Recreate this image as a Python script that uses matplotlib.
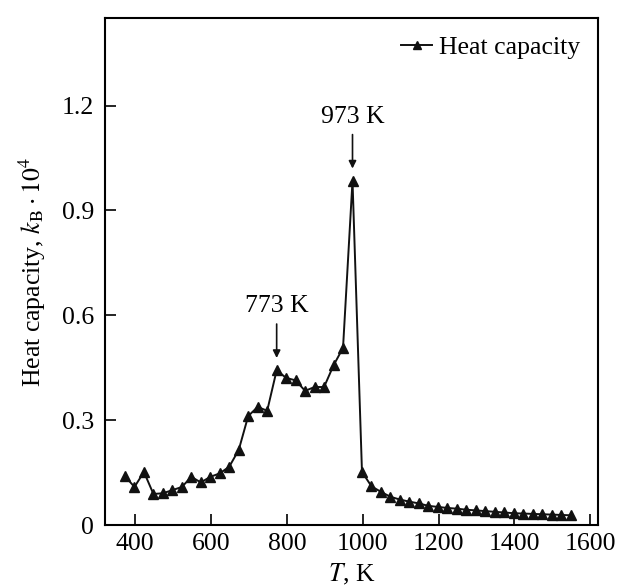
import matplotlib
matplotlib.use("Agg")
import matplotlib.pyplot as plt

plt.rcParams['font.family'] = ['Liberation Serif', 'DejaVu Serif']
plt.rcParams['mathtext.fontset'] = 'stix'

# temperature points, K
T = [373, 398, 423, 448, 473, 498, 523, 548, 573, 598, 623, 648, 673, 698,
     723, 748, 773, 798, 823, 848, 873, 898, 923, 948, 973, 998, 1023, 1048,
     1073, 1098, 1123, 1148, 1173, 1198, 1223, 1248, 1273, 1298, 1323, 1348,
     1373, 1398, 1423, 1448, 1473, 1498, 1523, 1548]
# heat capacity, kB * 10^4
C = [0.140, 0.109, 0.152, 0.089, 0.091, 0.100, 0.109, 0.138, 0.122, 0.138,
     0.148, 0.167, 0.215, 0.312, 0.338, 0.327, 0.443, 0.421, 0.414, 0.384,
     0.395, 0.395, 0.457, 0.507, 0.985, 0.152, 0.111, 0.095, 0.081, 0.073,
     0.067, 0.062, 0.055, 0.052, 0.049, 0.047, 0.044, 0.042, 0.040, 0.038,
     0.036, 0.034, 0.033, 0.032, 0.031, 0.030, 0.029, 0.028]

peaks = [773, 973]
xticks = [400, 600, 800, 1000, 1200, 1400, 1600]
yticks = [0, 0.3, 0.6, 0.9, 1.2]
yticklabels = ['0', '0.3', '0.6', '0.9', '1.2']

FS = 18.5

fig = plt.figure(figsize=(6.28, 5.88), dpi=100, facecolor='white')
ax = fig.add_axes([0.167, 0.107, 0.785, 0.862])

ax.plot(T, C, '-^', color='#111111', linewidth=1.4, markersize=7,
        label='Heat capacity')

# arrows pointing at the peaks
for p in peaks:
    v = C[T.index(p)]
    ax.annotate(f'{p} K', xy=(p, v + 0.035), xytext=(p, v + 0.152),
                ha='center', va='bottom', fontsize=FS,
                arrowprops=dict(arrowstyle='-|>', color='#111111', lw=1.2,
                                mutation_scale=11, shrinkA=3, shrinkB=0))

ax.set_xlim(320, 1620)
ax.set_ylim(0, 1.45)
ax.set_xticks(xticks)
ax.set_yticks(yticks)
ax.set_yticklabels(yticklabels)
ax.tick_params(direction='in', length=8, width=1.2, labelsize=FS,
               top=False, right=False, pad=6)
ax.tick_params(axis='y', pad=8)
for s in ax.spines.values():
    s.set_linewidth(1.5)

ax.set_xlabel('$T$, K', fontsize=FS, labelpad=5)
ax.set_ylabel(r'Heat capacity, $k_{\mathrm{B}}\cdot 10^4$', fontsize=FS,
              labelpad=10)

ax.legend(loc='upper right', frameon=False, fontsize=FS, handlelength=1.2,
          handletextpad=0.25, borderaxespad=0.3, markerscale=0.8)

fig.savefig('out.png', dpi=100, facecolor='white')
